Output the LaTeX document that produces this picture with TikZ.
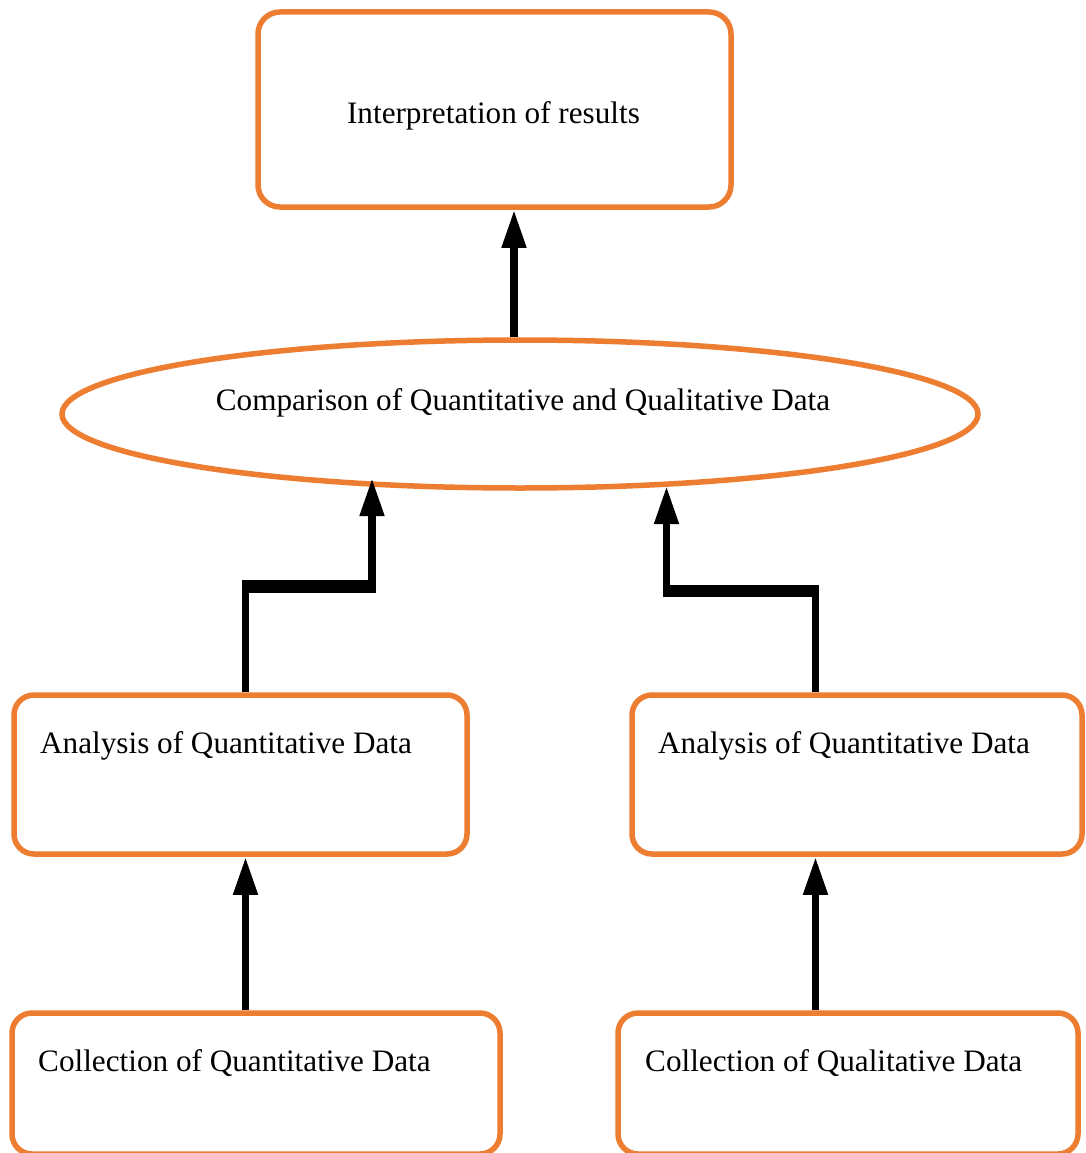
\documentclass[tikz,border=0pt]{standalone}
\usepackage{fontspec}
\setmainfont{Liberation Serif}
\usetikzlibrary{shapes.geometric,arrows.meta,calc}
\definecolor{boxorange}{HTML}{ED7D31}
\tikzset{
  obox/.style={draw=boxorange, line width=5.5pt, rounded corners=22pt, rectangle, inner sep=0pt, fill=white},
  oell/.style={draw=boxorange, line width=5.5pt, ellipse, inner sep=0pt, fill=white},
  txt/.style={font=\fontsize{31.2}{37}\selectfont, inner sep=0pt, text=black},
  conn/.style={line width=7.5pt, draw=black, line join=miter, -{Triangle[length=38pt,width=23pt]}},
  thickseg/.style={line width=12.5pt, draw=black, line cap=butt}
}
\begin{document}
\begin{tikzpicture}[x=1pt,y=-1pt]
\clip (0,0) rectangle (1085,1153);
\fill[white] (0,0) rectangle (1085,1153);

% nodes
\node[obox, minimum width=473pt, minimum height=195pt] (interp) at (494.5,109.5) {};
\node[txt, anchor=base] (interpt) at (493.5,124) {Interpretation of results};

\node[oell, minimum width=916pt, minimum height=148pt] (comp) at (520,414) {};
\node[txt, anchor=base] (compt) at (523,410) {Comparison of Quantitative and Qualitative Data};

\node[obox, rounded corners=20pt, minimum width=453pt, minimum height=159pt] (anqn) at (240.5,774.5) {};
\node[txt, anchor=base west] (anqnt) at (40,753) {Analysis of Quantitative Data};

\node[obox, rounded corners=20pt, minimum width=450pt, minimum height=159pt] (anql) at (857,774.5) {};
\node[txt, anchor=base west] (anqlt) at (658,753) {Analysis of Quantitative Data};

\node[obox, rounded corners=20pt, minimum width=488pt, minimum height=141pt] (colqn) at (256,1083.5) {};
\node[txt, anchor=base west] (colqnt) at (38,1071) {Collection of Quantitative Data};

\node[obox, rounded corners=20pt, minimum width=460pt, minimum height=141pt] (colql) at (848,1083.5) {};
\node[txt, anchor=base west] (colqlt) at (645,1071) {Collection of Qualitative Data};

% helper coordinates
\coordinate (xtop) at (514,0);
\coordinate (xL) at (245.5,0);
\coordinate (xR) at (815.5,0);
\coordinate (elbL) at (372,586.5);
\coordinate (tipL) at (372,478);
\coordinate (elbR) at (666.5,591);
\coordinate (tipR) at (666.5,486);

% connectors
\draw[conn] (comp.north -| xtop) -- (interp.south -| xtop);
\draw[conn] (colqn.north -| xL) -- (anqn.south -| xL);
\draw[conn] (colql.north -| xR) -- (anql.south -| xR);
\draw[conn] (anqn.north -| xL) |- (elbL) -- (tipL);
\draw[conn] (anql.north -| xR) |- (elbR) -- (tipR);
\draw[thickseg] ([xshift=-3.75pt]elbL -| xL) -- ([xshift=3.75pt]elbL);
\draw[thickseg] ([xshift=3.75pt]elbR -| xR) -- ([xshift=-3.75pt]elbR);
\end{tikzpicture}
\end{document}
